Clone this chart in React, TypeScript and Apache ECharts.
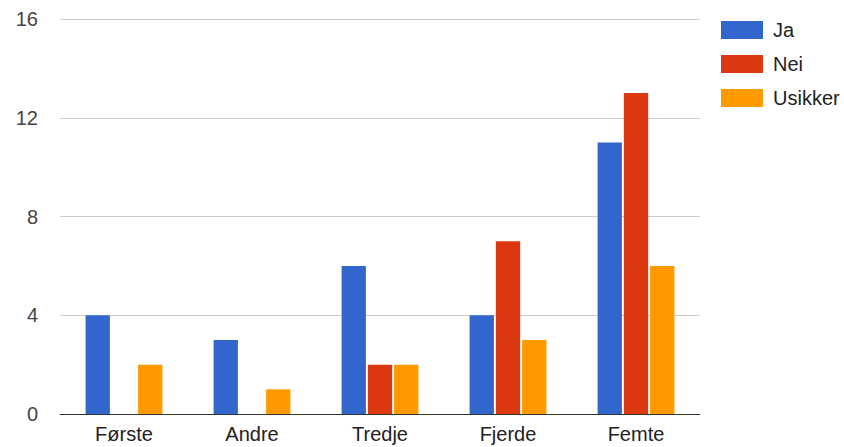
import React, { useEffect, useRef } from "react";
import * as echarts from "echarts";

const categories = ["Første", "Andre", "Tredje", "Fjerde", "Femte"];
const ja = [4, 3, 6, 4, 11];
const nei = [0, 0, 2, 7, 13];
const usikker = [2, 1, 2, 3, 6];
const seriesNames = ["Ja", "Nei", "Usikker"];
const colors = ["#3366cc", "#dc3912", "#ff9900"];

export default function App() {
  const ref = useRef<HTMLDivElement>(null);
  useEffect(() => {
    if (!ref.current) return;
    const chart = echarts.init(ref.current, undefined, { renderer: "svg" });
    const font = "'Liberation Sans', Arial, sans-serif";
    const data = [ja, nei, usikker];
    chart.setOption({
      animation: false,
      color: colors,
      textStyle: { fontFamily: font },
      grid: { left: 60, right: 144, top: 19, bottom: 33, containLabel: false },
      legend: {
        orient: "vertical",
        left: 721,
        top: 20,
        padding: 0,
        itemWidth: 42,
        itemHeight: 18,
        itemGap: 14,
        icon: "rect",
        textStyle: { fontSize: 20, color: "#222", fontFamily: font, padding: [0, 0, 0, 5] },
        data: seriesNames,
      },
      xAxis: {
        type: "category",
        data: categories,
        axisTick: { show: false },
        axisLine: { lineStyle: { color: "#333", width: 1 } },
        axisLabel: { fontSize: 20, color: "#222", margin: 10, fontFamily: font },
      },
      yAxis: {
        type: "value",
        min: 0,
        max: 16,
        interval: 4,
        axisLine: { show: false },
        axisTick: { show: false },
        splitLine: { lineStyle: { color: "#cccccc", width: 1 } },
        axisLabel: { fontSize: 20, color: "#444", margin: 22, fontFamily: font },
      },
      series: seriesNames.map((name, i) => ({
        name,
        type: "bar",
        data: data[i],
        barGap: "8%",
        barCategoryGap: "40%",
        itemStyle: { color: colors[i] },
      })),
    });
    return () => chart.dispose();
  }, []);
  return <div ref={ref} style={{ width: 844, height: 447, position: "absolute", left: 0, top: 0 }} />;
}
